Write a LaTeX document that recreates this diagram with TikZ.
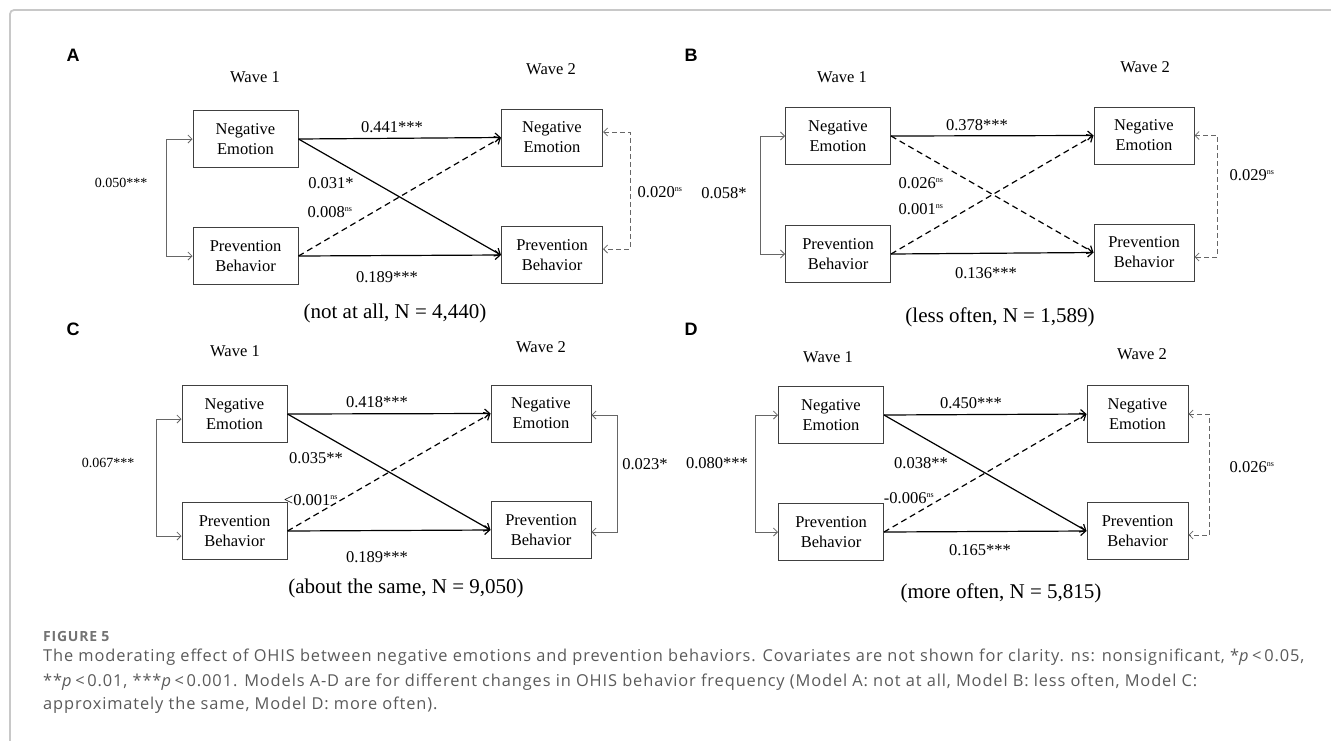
\documentclass[tikz,border=0pt]{standalone}
\usepackage{fontspec}
\setmainfont{Liberation Serif}
\setsansfont{Liberation Sans}
\newfontfamily\capfont[LetterSpace=5.4]{Open Sans}
\usetikzlibrary{arrows.meta}
\definecolor{capgray}{HTML}{5A5A5A}
\definecolor{framegray}{HTML}{C8C8C8}
\newcommand{\nsmark}{\textsuperscript{\fontsize{8}{8}\selectfont ns}}

\begin{document}
\begin{tikzpicture}[x=1pt,y=-1pt,
  box/.style={draw=black!75, line width=1pt, minimum width=105pt, minimum height=57pt, align=center, inner sep=0pt, font=\fontsize{16.5}{20}\selectfont},
  lbl/.style={inner sep=0pt, font=\fontsize{16.5}{20}\selectfont},
  covlbl/.style={inner sep=0pt, font=\fontsize{14}{16}\selectfont},
  grp/.style={inner sep=0pt, font=\fontsize{21}{24}\selectfont},
  panel/.style={inner sep=0pt, font=\sffamily\bfseries\fontsize{18}{20}\selectfont},
  captxt/.style={inner sep=0pt, anchor=base west, text=capgray, font=\capfont\fontsize{16.4}{20}\selectfont},
  eff/.style={line width=1.2pt, -{Straight Barb[length=5pt,width=9pt]}},
  effns/.style={eff, dash pattern=on 6pt off 4pt},
  cov/.style={draw=black!60, line width=0.8pt, {Straight Barb[length=4pt,width=8pt]}-{Straight Barb[length=4pt,width=8pt]}},
  covns/.style={cov, dash pattern=on 5pt off 3pt},
]
\useasboundingbox (0,0) rectangle (1331,740);
% frame
\draw[framegray, line width=1.8pt, rounded corners=4pt] (10,741) -- (10,10) -- (1332,10);

% panel A
\node[panel] (tagA) at (73,55) {A};
\node[lbl] (w1A) at (255,77) {Wave 1};
\node[lbl] (w2A) at (551,69) {Wave 2};
\node[box] (neA1) at (245.5,139) {Negative\\Emotion};
\node[box] (pbA1) at (245.5,256) {Prevention\\Behavior};
\node[box, minimum width=101pt] (neA2) at (552,137.5) {Negative\\Emotion};
\node[box, minimum width=101pt] (pbA2) at (552,255) {Prevention\\Behavior};
\draw[eff] (neA1.east) -- (neA2.west);
\draw[eff] (pbA1.east) -- (pbA2.west);
\draw[eff] (neA1.east) -- (pbA2.west);
\draw[effns] (pbA1.east) -- (neA2.west);
\draw[cov] (neA1.west) -- ++(-26,0) |- (pbA1.west);
\draw[covns] ([yshift=5.5pt]neA2.east) -- ++(27,0) |- ([yshift=6pt]pbA2.east);
\node[covlbl] (cA1) at (121,183) {0.050***};
\node[lbl] (cA2) at (660,192) {0.020\nsmark};
\node[lbl] (bA1) at (392,127) {0.441***};
\node[lbl] (bA2) at (387,277) {0.189***};
\node[lbl] (bA3) at (331,183) {0.031*};
\node[lbl] (bA4) at (330,212) {0.008\nsmark};
\node[grp] (gA) at (395,313) {(not at all, N = 4,440)};

% panel B
\node[panel] (tagB) at (691,55) {B};
\node[lbl] (w1B) at (842,77) {Wave 1};
\node[lbl] (w2B) at (1145,67) {Wave 2};
\node[box] (neB1) at (838,136) {Negative\\Emotion};
\node[box] (pbB1) at (838,254) {Prevention\\Behavior};
\node[box, minimum width=100pt] (neB2) at (1144,135.5) {Negative\\Emotion};
\node[box, minimum width=100pt] (pbB2) at (1144,252.5) {Prevention\\Behavior};
\draw[eff] (neB1.east) -- (neB2.west);
\draw[eff] (pbB1.east) -- (pbB2.west);
\draw[effns] (neB1.east) -- (pbB2.west);
\draw[effns] (pbB1.east) -- (neB2.west);
\draw[cov] (neB1.west) -- ++(-25,0) |- (pbB1.west);
\draw[covns] (neB2.east) -- ++(23,0) |- ([yshift=-4.5pt]pbB2.east);
\node[lbl] (cB1) at (724,193) {0.058*};
\node[lbl] (cB2) at (1252,175) {0.029\nsmark};
\node[lbl] (bB1) at (977,125) {0.378***};
\node[lbl] (bB2) at (986,273) {0.136***};
\node[lbl] (bB3) at (921,183) {0.026\nsmark};
\node[lbl] (bB4) at (921,209) {0.001\nsmark};
\node[grp] (gB) at (1000,317) {(less often, N = 1,589)};

% panel C
\node[panel] (tagC) at (73,329) {C};
\node[lbl] (w1C) at (235,351) {Wave 1};
\node[lbl] (w2C) at (541,347) {Wave 2};
\node[box] (neC1) at (234.5,414) {Negative\\Emotion};
\node[box] (pbC1) at (234.5,531) {Prevention\\Behavior};
\node[box, minimum width=100pt] (neC2) at (541,413.5) {Negative\\Emotion};
\node[box, minimum width=100pt] (pbC2) at (541,530) {Prevention\\Behavior};
\draw[eff] (neC1.east) -- (neC2.west);
\draw[eff] (pbC1.east) -- (pbC2.west);
\draw[eff] (neC1.east) -- (pbC2.west);
\draw[effns] (pbC1.east) -- (neC2.west);
\draw[cov] ([yshift=-5pt]neC1.west) -- ++(-25,0) |- ([yshift=-5pt]pbC1.west);
\draw[cov] ([yshift=-1.5pt]neC2.east) -- ++(26,0) |- ([yshift=-2pt]pbC2.east);
\node[covlbl] (cC1) at (108,463) {0.067***};
\node[lbl] (cC2) at (645,464) {0.023*};
\node[lbl] (bC1) at (377,402) {0.418***};
\node[lbl] (bC2) at (377,557) {0.189***};
\node[lbl] (bC3) at (316,458) {0.035**};
\node[lbl] (bC4) at (311,500) {<0.001\nsmark};
\node[grp] (gC) at (406,588) {(about the same, N = 9,050)};

% panel D
\node[panel] (tagD) at (691,329) {D};
\node[lbl] (w1D) at (828,357) {Wave 1};
\node[lbl] (w2D) at (1142,354) {Wave 2};
\node[box] (neD1) at (831,415) {Negative\\Emotion};
\node[box] (pbD1) at (831,532) {Prevention\\Behavior};
\node[box, minimum width=101pt] (neD2) at (1137.5,414) {Negative\\Emotion};
\node[box, minimum width=101pt] (pbD2) at (1137.5,531) {Prevention\\Behavior};
\draw[eff] (neD1.east) -- (neD2.west);
\draw[eff] (pbD1.east) -- (pbD2.west);
\draw[eff] (neD1.east) -- (pbD2.west);
\draw[effns] (pbD1.east) -- (neD2.west);
\draw[cov] (neD1.west) -- ++(-23,0) |- (pbD1.west);
\draw[covns] (neD2.east) -- ++(21,0) |- ([yshift=-4pt]pbD2.east);
\node[lbl] (cD1) at (717,463) {0.080***};
\node[lbl] (cD2) at (1252,467) {0.026\nsmark};
\node[lbl] (bD1) at (971,403) {0.450***};
\node[lbl] (bD2) at (980,550) {0.165***};
\node[lbl] (bD3) at (921,463) {0.038**};
\node[lbl] (bD4) at (909,498) {-0.006\nsmark};
\node[grp] (gD) at (1001,593) {(more often, N = 5,815)};

% caption
\node[captxt, text=black!55, font=\capfont\bfseries\fontsize{14}{18}\selectfont] (fig) at (43,641) {FIGURE 5};
\node[captxt] (cap1) at (43,661.5) {The moderating effect of OHIS between negative emotions and prevention behaviors. Covariates are not shown for clarity. ns: nonsignificant, *\textit{p}\,<\,0.05,};
\node[captxt] (cap2) at (43,686) {**\textit{p}\,<\,0.01, ***\textit{p}\,<\,0.001. Models A-D are for different changes in OHIS behavior frequency (Model A: not at all, Model B: less often, Model C:};
\node[captxt] (cap3) at (43,709.5) {approximately the same, Model D: more often).};
\end{tikzpicture}
\end{document}
